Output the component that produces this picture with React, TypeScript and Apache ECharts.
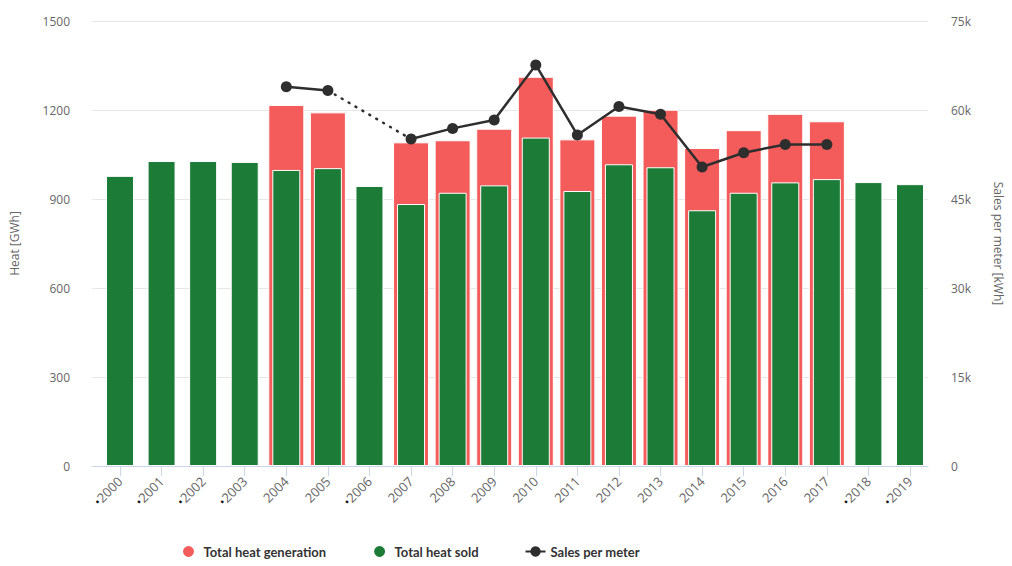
import React, { useEffect, useRef } from "react";
import * as echarts from "echarts";

// Yearly district-heat figures
const years = [
  "2000", "2001", "2002", "2003", "2004", "2005", "2006", "2007", "2008", "2009",
  "2010", "2011", "2012", "2013", "2014", "2015", "2016", "2017", "2018", "2019",
];

// Total heat generation [GWh] (not reported for every year)
const heatGeneration: (number | null)[] = [
  null, null, null, null, 1217, 1192, null, 1091, 1098, 1137,
  1312, 1101, 1181, 1201, 1072, 1132, 1187, 1162, null, null,
];

// Total heat sold [GWh]
const heatSold: number[] = [
  978, 1028, 1028, 1025, 998, 1004, 944, 883, 921, 946,
  1107, 927, 1017, 1007, 862, 921, 956, 967, 957, 950,
];

// Sales per meter [kWh]
const salesPerMeter: (number | null)[] = [
  null, null, null, null, 63900, 63300, null, 55100, 56900, 58300,
  67600, 55800, 60600, 59300, 50400, 52800, 54200, 54200, null, null,
];

const heatTicks = { min: 0, max: 1500, interval: 300 };
const salesTicks = { min: 0, max: 75000, interval: 15000 };

const RED = "#f45b5b";
const GREEN = "#1b7b37";
const LINE = "#2e2e2e";
const FONT = "'Open Sans', 'Noto Sans', sans-serif";
const LEGEND_FONT = "Lato, 'Open Sans', sans-serif";

// Dotted bridge across gaps in the sales series: keep only the points that sit
// on either side of a run of missing values.
function bridgeOverGaps(values: (number | null)[]): (number | null)[] {
  const out: (number | null)[] = values.map(() => null);
  let last = -1;
  values.forEach((v, i) => {
    if (v == null) return;
    if (last >= 0 && i - last > 1) {
      out[last] = values[last];
      out[i] = v;
    }
    last = i;
  });
  return out;
}

export default function App() {
  const ref = useRef<HTMLDivElement>(null);

  useEffect(() => {
    if (!ref.current) return;
    const chart = echarts.init(ref.current, undefined, { renderer: "svg" });

    const axisLabel = { color: "#666", fontSize: 12, fontFamily: FONT };

    chart.setOption({
      animation: false,
      backgroundColor: "#fff",
      textStyle: { fontFamily: FONT },
      grid: [
        // frame grid: gridlines, y-axis labels and baseline
        { left: 90, right: 72, top: 21, bottom: 100 },
        // data grid: category bands
        { left: 99.2, right: 81.2, top: 21, bottom: 100 },
      ],
      legend: {
        bottom: 2,
        left: 176,
        itemGap: 46,
        itemWidth: 20,
        itemHeight: 13,
        textStyle: {
          fontFamily: LEGEND_FONT,
          fontWeight: "bold",
          fontSize: 13,
          color: "#333",
        },
        data: [
          { name: "Total heat generation", icon: "circle" },
          { name: "Total heat sold", icon: "circle" },
          { name: "Sales per meter" },
        ],
      },
      xAxis: [
        {
          gridIndex: 0,
          type: "value",
          min: 0,
          max: 1,
          axisLine: { show: true, onZero: false, lineStyle: { color: "#ccd6eb", width: 1 } },
          axisTick: { show: false },
          axisLabel: { show: false },
          splitLine: { show: false },
        },
        {
          gridIndex: 1,
          type: "category",
          data: years,
          axisLine: { show: false },
          axisTick: { show: true, alignWithLabel: true, length: 10, lineStyle: { color: "#ccd6eb" } },
          axisLabel: {
            ...axisLabel,
            rotate: 45,
            margin: 13,
            interval: 0,
            formatter: (v: string, i: number) =>
              heatGeneration[i] == null ? `{d|•}{t|${v}}` : `{t|${v}}`,
            rich: {
              t: { color: "#666", fontSize: 13, fontFamily: FONT },
              d: { color: "#111", fontSize: 12, fontFamily: FONT },
            },
          },
        },
        {
          gridIndex: 1,
          type: "category",
          data: years,
          show: false,
        },
      ],
      yAxis: [
        {
          gridIndex: 0,
          type: "value",
          position: "left",
          ...heatTicks,
          name: "Heat [GWh]",
          nameLocation: "middle",
          nameGap: 72,
          nameRotate: 90,
          nameTextStyle: { color: "#666", fontSize: 12, fontFamily: FONT },
          axisLine: { show: false },
          axisTick: { show: false },
          axisLabel: { ...axisLabel, margin: 22, formatter: (v: number) => String(v) },
          splitLine: { lineStyle: { color: "#e6e6e6", width: 1 } },
        },
        {
          gridIndex: 0,
          type: "value",
          position: "right",
          ...salesTicks,
          name: "Sales per meter [kWh]",
          nameLocation: "middle",
          nameGap: 64,
          nameRotate: -90,
          nameTextStyle: { color: "#666", fontSize: 12, fontFamily: FONT },
          axisLine: { show: false },
          axisTick: { show: false },
          axisLabel: {
            ...axisLabel,
            margin: 23,
            formatter: (v: number) => (v === 0 ? "0" : `${v / 1000}k`),
          },
          splitLine: { show: false },
        },
        { gridIndex: 1, type: "value", ...heatTicks, show: false, splitLine: { show: false } },
        { gridIndex: 1, type: "value", ...salesTicks, show: false, splitLine: { show: false } },
      ],
      series: [
        {
          name: "Total heat generation",
          type: "bar",
          xAxisIndex: 1,
          yAxisIndex: 2,
          barWidth: 36,
          data: heatGeneration,
          itemStyle: { color: RED, borderColor: "#fff", borderWidth: 1 },
          z: 2,
        },
        {
          name: "Total heat sold",
          type: "bar",
          xAxisIndex: 2,
          yAxisIndex: 2,
          barWidth: 28,
          data: heatSold,
          itemStyle: { color: GREEN, borderColor: "#fff", borderWidth: 1 },
          z: 3,
        },
        {
          name: "Sales per meter-gap",
          type: "line",
          xAxisIndex: 1,
          yAxisIndex: 3,
          data: bridgeOverGaps(salesPerMeter),
          connectNulls: true,
          showSymbol: false,
          symbol: "none",
          lineStyle: { color: LINE, width: 2.5, type: [1, 7], cap: "round" },
          itemStyle: { color: LINE },
          z: 4,
        },
        {
          name: "Sales per meter",
          type: "line",
          xAxisIndex: 1,
          yAxisIndex: 3,
          data: salesPerMeter,
          connectNulls: false,
          symbol: "circle",
          symbolSize: 11,
          lineStyle: { color: LINE, width: 2.5 },
          itemStyle: { color: LINE },
          z: 5,
        },
      ],
    });

    return () => chart.dispose();
  }, []);

  return (
    <div
      ref={ref}
      style={{ position: "fixed", left: 0, top: 0, width: 1012, height: 566, background: "#fff" }}
    />
  );
}
